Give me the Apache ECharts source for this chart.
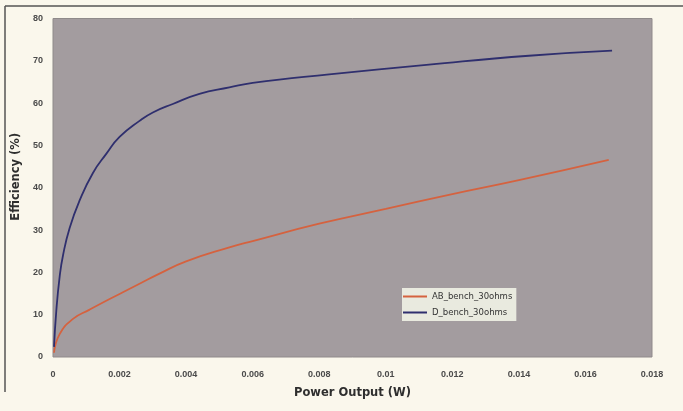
<!DOCTYPE html>
<html>
<head>
<meta charset="utf-8">
<script src="https://cdn.jsdelivr.net/npm/echarts@6/dist/echarts.min.js"></script>
<style>
html,body{margin:0;padding:0;background:#faf7ec;}
#c{width:683px;height:411px;}
</style>
</head>
<body>
<div id="c"></div>
<script>
// Data
const seriesNames = ['AB_bench_30ohms', 'D_bench_30ohms'];
const abPower = [0.00003, 0.0002, 0.0006, 0.0011, 0.0016, 0.0021, 0.0026, 0.0032, 0.004, 0.0053, 0.006, 0.008, 0.010, 0.012, 0.014, 0.0167];
const abEff   = [1, 5.4, 9.0, 11.2, 13.3, 15.3, 17.3, 19.7, 22.6, 25.9, 27.4, 31.5, 35, 38.5, 41.8, 46.6];
const dPower  = [0.00003, 0.0001, 0.0002, 0.0003, 0.0005, 0.0008, 0.0012, 0.0016, 0.002, 0.0026, 0.003, 0.0036, 0.0044, 0.0053, 0.006, 0.0083, 0.0113, 0.0143, 0.0168];
const dEff    = [2.4, 11, 19, 24, 30.5, 37, 43.5, 48, 52, 55.8, 57.8, 59.8, 62.2, 63.7, 64.8, 66.8, 69.1, 71.2, 72.4];
const xTicks = [0, 0.002, 0.004, 0.006, 0.008, 0.01, 0.012, 0.014, 0.016, 0.018];
const yTicks = [0, 10, 20, 30, 40, 50, 60, 70, 80];

const pairs = (xs, ys) => xs.map((x, i) => [x, ys[i]]);

const chart = echarts.init(document.getElementById('c'));
chart.setOption({
  backgroundColor: '#faf7ec',
  animation: false,
  grid: {left: 53, right: 31, top: 18.5, bottom: 54, outerBoundsMode: 'none', containLabel: false,
         show: true, backgroundColor: '#a39c9f', borderColor: '#8f8a8a', borderWidth: 1},
  graphic: [
    {type: 'line', shape: {x1: 5, y1: 6, x2: 683, y2: 6}, style: {stroke: '#555', lineWidth: 1.5}},
    {type: 'line', shape: {x1: 5, y1: 6, x2: 5, y2: 392}, style: {stroke: '#555', lineWidth: 1.5}}
  ],
  legend: {
    orient: 'vertical', left: 402, top: 288,
    data: seriesNames,
    icon: 'rect', itemWidth: 24, itemHeight: 2, itemGap: 5,
    backgroundColor: '#e9eadf', padding: [3, 4, 3, 1],
    textStyle: {fontSize: 8.5, lineHeight: 11, color: '#333', fontFamily: 'DejaVu Sans'}
  },
  xAxis: {
    type: 'value', min: 0, max: 0.018, interval: 0.002,
    name: 'Power Output (W)', nameLocation: 'middle', nameGap: 30,
    nameTextStyle: {fontFamily: 'DejaVu Sans', fontWeight: 'bold', fontSize: 11.5, color: '#2e2e2e'},
    axisLine: {show: false}, axisTick: {show: false}, splitLine: {show: false},
    axisLabel: {
      margin: 13, fontFamily: 'Liberation Sans', fontWeight: 'bold', fontSize: 9, color: '#4a4a4a',
      formatter: v => { const t = xTicks.find(k => Math.abs(k - v) < 1e-9); return String(t !== undefined ? t : +v.toFixed(3)); }
    }
  },
  yAxis: {
    type: 'value', min: 0, max: 80, interval: 10,
    name: 'Efficiency (%)', nameLocation: 'middle', nameGap: 31,
    nameTextStyle: {fontFamily: 'DejaVu Sans', fontWeight: 'bold', fontSize: 11.5, color: '#2e2e2e', padding: [0, 0, 0, 22]},
    axisLine: {show: false}, axisTick: {show: false}, splitLine: {show: false},
    axisLabel: {
      margin: 10, fontFamily: 'Liberation Sans', fontWeight: 'bold', fontSize: 9, color: '#4a4a4a',
      formatter: v => { const t = yTicks.find(k => k === v); return String(t !== undefined ? t : v); }
    }
  },
  series: [
    {name: seriesNames[0], type: 'line', smooth: 0.5, showSymbol: false, data: pairs(abPower, abEff),
     lineStyle: {color: '#d5623f', width: 1.8}, itemStyle: {color: '#d5623f'}},
    {name: seriesNames[1], type: 'line', smooth: 0.5, showSymbol: false, data: pairs(dPower, dEff),
     lineStyle: {color: '#2f2f6e', width: 1.8}, itemStyle: {color: '#2f2f6e'}}
  ]
});
</script>
</body>
</html>
